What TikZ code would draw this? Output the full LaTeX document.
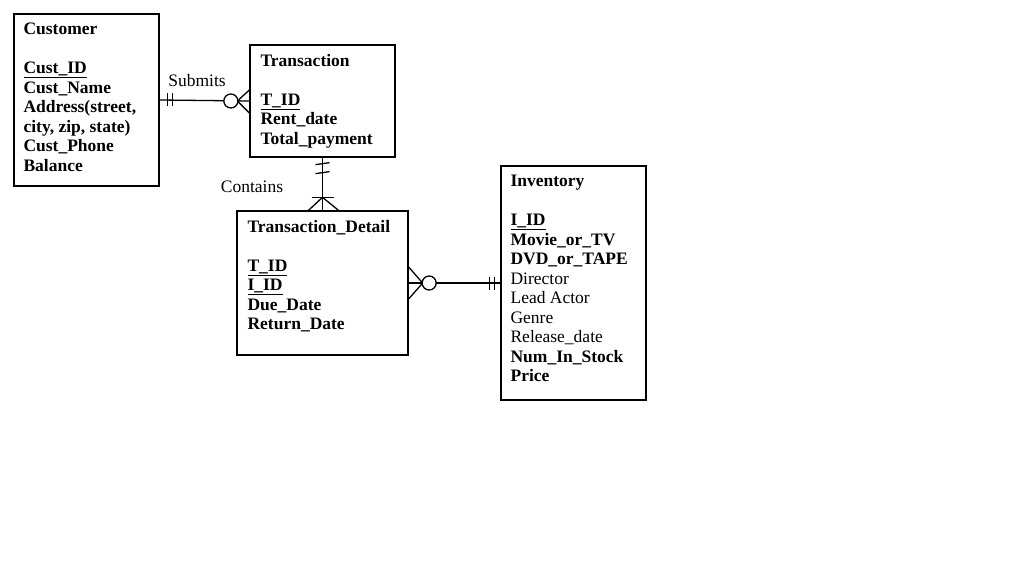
\documentclass[tikz,border=0pt]{standalone}
\usepackage{fontspec}
\setmainfont{Liberation Serif}
\usetikzlibrary{calc}

\begin{document}
\begin{tikzpicture}[x=1pt,y=-1pt,
  entity/.style={draw,line width=1.3pt,inner sep=0pt},
  attrs/.style={anchor=north west,inner sep=0pt,align=left,
                font=\fontsize{17.5}{19.5}\selectfont},
  lbl/.style={inner sep=0pt,font=\fontsize{17.5}{20}\selectfont},
  link/.style={line width=1.3pt},
  ring/.style={link,fill=white}]

\useasboundingbox (0,0) rectangle (1024,585);

% entities
\node[entity,minimum width=145,minimum height=172] (cust) at (86.5,100) {};
\node[entity,minimum width=145,minimum height=112] (trans) at (322.5,101) {};
\node[entity,minimum width=171,minimum height=144] (detail) at (322.5,283) {};
\node[entity,minimum width=145,minimum height=234] (inv) at (573.5,283) {};

\node[attrs] (custtext) at ($(cust.north west)+(10,9.5)$)
  {\textbf{Customer}\\[19.5pt]
   \textbf{\underline{Cust\_ID}}\\ \textbf{Cust\_Name}\\ \textbf{Address(street,}\\
   \textbf{city, zip, state)}\\ \textbf{Cust\_Phone}\\ \textbf{Balance}};
\node[attrs] (transtext) at ($(trans.north west)+(11,9.5)$)
  {\textbf{Transaction}\\[19.5pt]
   \textbf{\underline{T\_ID}}\\ \textbf{Rent\_date}\\ \textbf{Total\_payment}};
\node[attrs] (detailtext) at ($(detail.north west)+(11,9.5)$)
  {\textbf{Transaction\_Detail}\\[19.5pt]
   \textbf{\underline{T\_ID}}\\ \textbf{\underline{I\_ID}}\\ \textbf{Due\_Date}\\ \textbf{Return\_Date}};
\node[attrs] (invtext) at ($(inv.north west)+(10,9.5)$)
  {\textbf{Inventory}\\[19.5pt]
   \textbf{\underline{I\_ID}}\\ \textbf{Movie\_or\_TV}\\ \textbf{DVD\_or\_TAPE}\\
   Director\\ Lead Actor\\ Genre\\ Release\_date\\ \textbf{Num\_In\_Stock}\\ \textbf{Price}};

% Submits: one customer, zero or many transactions
\draw[link] (cust.east) -- (trans.west);
\draw[link] ($(cust.east)+(8,-6.5)$) -- ++(0,13);
\draw[link] ($(cust.east)+(13,-6.5)$) -- ++(0,13);
\draw[link] ($(trans.west)+(0,-11)$) -- ($(trans.west)+(-12,0)$) -- ($(trans.west)+(0,12)$);
\draw[ring] ($(trans.west)+(-18.5,0)$) circle (7);
\node[lbl] (submits) at (197,81) {Submits};

% Contains: one transaction, one or many details
\draw[link] (trans.south) -- (detail.north);
\draw[link] ($(trans.south)+(-7,7)$) -- ++(14,-2);
\draw[link] ($(trans.south)+(-7,16)$) -- ++(14,-2);
\draw[link] ($(detail.north)+(-11,-13)$) -- ++(22,0);
\draw[link] ($(detail.north)+(-14,0)$) -- ($(detail.north)+(0,-13)$) -- ($(detail.north)+(16,0)$);
\node[lbl] (contains) at (252,187) {Contains};

% details to inventory: zero or many, exactly one
\draw[link] (detail.east) -- (inv.west);
\draw[link] ($(detail.east)+(0,-16)$) -- ($(detail.east)+(14,0)$) -- ($(detail.east)+(0,16)$);
\draw[ring] ($(detail.east)+(20.5,0)$) circle (7);
\draw[link] ($(inv.west)+(-11,-6.5)$) -- ++(0,13);
\draw[link] ($(inv.west)+(-6,-6.5)$) -- ++(0,13);
\end{tikzpicture}
\end{document}
